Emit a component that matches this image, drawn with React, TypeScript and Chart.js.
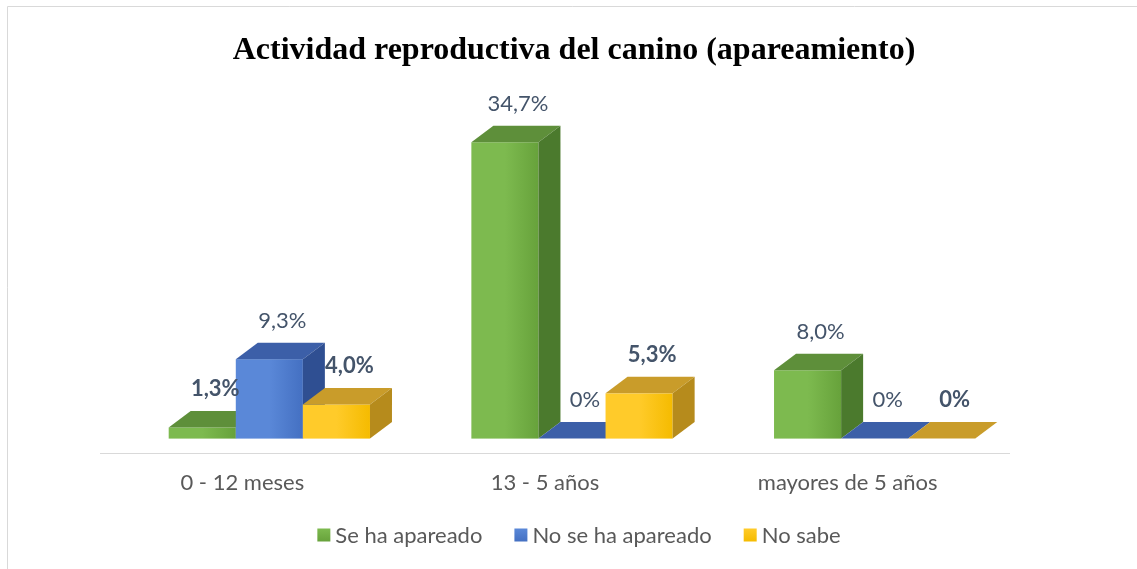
import React, { useEffect, useRef } from "react";
import { Chart, registerables } from "chart.js";

Chart.register(...registerables);

const titleText = "Actividad reproductiva del canino (apareamiento)";
const categories = ["0 - 12 meses", "13 - 5 años", "mayores de 5 años"];
const seriesNames = ["Se ha apareado", "No se ha apareado", "No sabe"];
const seHaApareado = [1.3, 34.7, 8.0];
const noSeHaApareado = [9.3, 0, 0];
const noSabe = [4.0, 5.3, 0];
const boldLabels = [
  [true, false, false],
  [false, false, false],
  [true, true, true],
];

const frontLight = ["#7dba4f", "#5a88d8", "#ffcb2a"];
const frontDark = ["#67a23b", "#4470c2", "#f5bb00"];
const topColors = ["#5e8f3a", "#3c5fa8", "#c99c2a"];
const sideColors = ["#4b7a2d", "#2f4f92", "#b68b1c"];

const FONT = "Lato, 'Noto Sans', sans-serif";
const DX = 22;
const DY = 16.5;

function fmt(v: number): string {
  if (v === 0) return "0%";
  return v.toFixed(1).replace(".", ",") + "%";
}

const drawPlugin = {
  id: "bars3d",
  beforeDatasetsDraw(chart: any) {
    const ctx: CanvasRenderingContext2D = chart.ctx;
    const n = chart.data.datasets.length;
    ctx.save();
    for (let i = 0; i < categories.length; i++) {
      for (let d = 0; d < n; d++) {
        const el: any = chart.getDatasetMeta(d).data[i];
        const w = el.width;
        const x0 = el.x - w / 2;
        const x1 = el.x + w / 2;
        const yT = el.y;
        const yB = el.base;
        if (yB - yT > 0.5) {
          const g = ctx.createLinearGradient(x0, 0, x1, 0);
          g.addColorStop(0, frontLight[d]);
          g.addColorStop(0.5, frontLight[d]);
          g.addColorStop(1, frontDark[d]);
          ctx.fillStyle = g;
          ctx.fillRect(x0, yT, w, yB - yT);
        }
        ctx.fillStyle = topColors[d];
        ctx.beginPath();
        ctx.moveTo(x0, yT);
        ctx.lineTo(x1, yT);
        ctx.lineTo(x1 + DX, yT - DY);
        ctx.lineTo(x0 + DX, yT - DY);
        ctx.closePath();
        ctx.fill();
        if (yB - yT > 0.5) {
          ctx.fillStyle = sideColors[d];
          ctx.beginPath();
          ctx.moveTo(x1, yT);
          ctx.lineTo(x1 + DX, yT - DY);
          ctx.lineTo(x1 + DX, yB - DY);
          ctx.lineTo(x1, yB);
          ctx.closePath();
          ctx.fill();
        }
      }
    }
    ctx.textAlign = "center";
    ctx.textBaseline = "middle";
    ctx.fillStyle = "#44546a";
    for (let d = 0; d < n; d++) {
      const meta = chart.getDatasetMeta(d);
      const vals = chart.data.datasets[d].data as number[];
      for (let i = 0; i < vals.length; i++) {
        const el: any = meta.data[i];
        ctx.font = (boldLabels[d][i] ? "bold " : "") + "22px " + FONT;
        ctx.fillText(fmt(vals[i]), el.x + DX / 2 + 2, el.y - DY - 22);
      }
    }
    ctx.restore();
    return false;
  },
  afterDraw(chart: any) {
    const ctx: CanvasRenderingContext2D = chart.ctx;
    const area = chart.chartArea;
    ctx.save();
    ctx.strokeStyle = "#d9d9d9";
    ctx.lineWidth = 1;
    ctx.beginPath();
    ctx.moveTo(7.5, 569);
    ctx.lineTo(7.5, 6.5);
    ctx.lineTo(1137, 6.5);
    ctx.stroke();
    const y0 = chart.scales.y.getPixelForValue(0);
    ctx.beginPath();
    ctx.moveTo(area.left - 18, Math.round(y0 + 14) + 0.5);
    ctx.lineTo(area.right - 16, Math.round(y0 + 14) + 0.5);
    ctx.stroke();
    ctx.fillStyle = "#000000";
    ctx.font = "bold 32px 'Liberation Serif', 'Times New Roman', serif";
    ctx.textAlign = "center";
    ctx.textBaseline = "middle";
    ctx.fillText(titleText, 574, 51);
    ctx.font = "22px " + FONT;
    ctx.textAlign = "left";
    const box = 13;
    const gapText = 5;
    const gapItem = 32;
    const widths = seriesNames.map((s) => ctx.measureText(s).width);
    let total = 0;
    widths.forEach((w, k) => {
      total += box + gapText + w + (k < widths.length - 1 ? gapItem : 0);
    });
    let x = 579 - total / 2;
    const ly = 535;
    seriesNames.forEach((s, k) => {
      const g = ctx.createLinearGradient(0, ly - box / 2, 0, ly + box / 2);
      g.addColorStop(0, frontLight[k]);
      g.addColorStop(1, frontDark[k]);
      ctx.fillStyle = g;
      ctx.fillRect(x, ly - box / 2, box, box);
      ctx.fillStyle = "#595959";
      ctx.fillText(s, x + box + gapText, ly + 1);
      x += box + gapText + widths[k] + gapItem;
    });
    ctx.restore();
  },
};

export default function App() {
  const ref = useRef<HTMLCanvasElement | null>(null);
  useEffect(() => {
    if (!ref.current) return;
    const chart = new Chart(ref.current, {
      type: "bar",
      data: {
        labels: categories,
        datasets: [
          { label: seriesNames[0], data: seHaApareado, backgroundColor: frontDark[0] },
          { label: seriesNames[1], data: noSeHaApareado, backgroundColor: frontDark[1] },
          { label: seriesNames[2], data: noSabe, backgroundColor: frontDark[2] },
        ],
      },
      options: {
        responsive: false,
        animation: false,
        events: [],
        layout: { padding: { left: 118, right: 111, top: 97, bottom: 42 } },
        datasets: { bar: { barPercentage: 1, categoryPercentage: 0.665 } },
        plugins: {
          legend: { display: false },
          title: { display: false },
          tooltip: { enabled: false },
        },
        scales: {
          x: {
            grid: { display: false, drawTicks: false },
            border: { display: false },
            ticks: {
              padding: 31,
              labelOffset: -27,
              color: "#595959",
              font: { family: FONT, size: 22 },
            },
          },
          y: { display: false, min: 0, max: 40 },
        },
      },
      plugins: [drawPlugin],
    });
    return () => chart.destroy();
  }, []);
  return (
    <div style={{ position: "absolute", left: 0, top: 0, width: 1137, height: 569, background: "#fff" }}>
      <canvas ref={ref} width={1137} height={569} style={{ display: "block" }} />
    </div>
  );
}
